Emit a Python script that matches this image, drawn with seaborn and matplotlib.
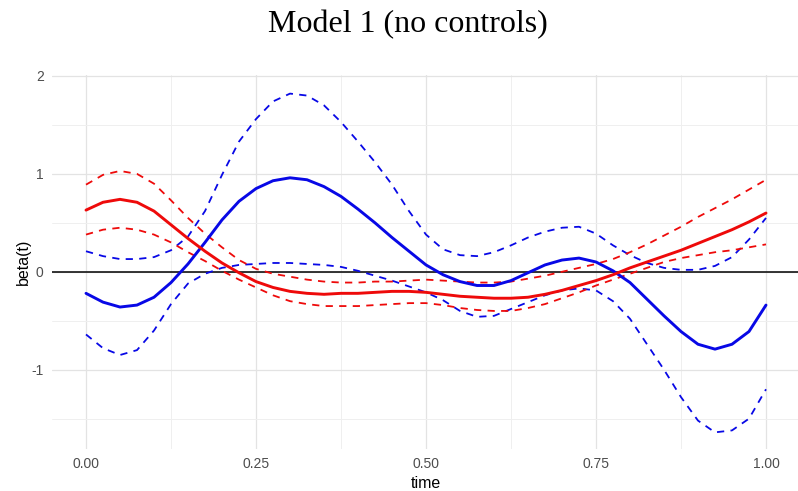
import numpy as np
import pandas as pd
import matplotlib
matplotlib.use("Agg")
import matplotlib.pyplot as plt
import seaborn as sns
from matplotlib.ticker import FixedLocator

# ---- data ----
time = np.linspace(0.0, 1.0, 41)  # grid of 0.025

blue_est = [-0.22, -0.31, -0.36, -0.34, -0.26, -0.11, 0.08, 0.30, 0.53, 0.72, 0.85,
            0.93, 0.96, 0.94, 0.87, 0.77, 0.64, 0.50, 0.35, 0.21, 0.07,
            -0.03, -0.10, -0.14, -0.14, -0.09, -0.01, 0.07, 0.12, 0.14, 0.10,
            0.01, -0.11, -0.28, -0.45, -0.61, -0.74, -0.79, -0.74, -0.61, -0.34]
blue_upper = [0.21, 0.16, 0.13, 0.13, 0.15, 0.22, 0.36, 0.62, 0.99, 1.33, 1.56,
              1.74, 1.82, 1.80, 1.70, 1.53, 1.33, 1.12, 0.89, 0.62, 0.38,
              0.23, 0.17, 0.16, 0.20, 0.27, 0.35, 0.41, 0.45, 0.46, 0.39,
              0.27, 0.17, 0.09, 0.04, 0.02, 0.02, 0.06, 0.15, 0.33, 0.55]
blue_lower = [-0.64, -0.78, -0.85, -0.80, -0.60, -0.33, -0.12, -0.02, 0.04, 0.07, 0.08,
              0.09, 0.09, 0.08, 0.07, 0.05, 0.01, -0.04, -0.09, -0.15, -0.21,
              -0.29, -0.40, -0.46, -0.45, -0.38, -0.31, -0.24, -0.19, -0.17, -0.19,
              -0.30, -0.48, -0.74, -1.00, -1.28, -1.52, -1.64, -1.62, -1.50, -1.20]

red_est = [0.63, 0.71, 0.74, 0.71, 0.62, 0.48, 0.34, 0.21, 0.09, -0.01, -0.10,
           -0.16, -0.20, -0.22, -0.23, -0.22, -0.22, -0.21, -0.20, -0.20, -0.21,
           -0.23, -0.25, -0.26, -0.27, -0.27, -0.26, -0.23, -0.19, -0.14, -0.09,
           -0.03, 0.04, 0.10, 0.16, 0.22, 0.29, 0.36, 0.43, 0.51, 0.60]
red_upper = [0.89, 0.99, 1.03, 1.00, 0.90, 0.73, 0.55, 0.39, 0.25, 0.12, 0.03,
             -0.02, -0.05, -0.08, -0.10, -0.11, -0.11, -0.10, -0.10, -0.09, -0.08,
             -0.09, -0.10, -0.11, -0.11, -0.10, -0.07, -0.04, 0.00, 0.04, 0.08,
             0.13, 0.20, 0.28, 0.37, 0.46, 0.56, 0.65, 0.74, 0.84, 0.94]
red_lower = [0.38, 0.43, 0.45, 0.43, 0.38, 0.30, 0.20, 0.11, 0.01, -0.08, -0.16,
             -0.24, -0.30, -0.33, -0.35, -0.35, -0.35, -0.34, -0.33, -0.32, -0.32,
             -0.34, -0.37, -0.39, -0.40, -0.40, -0.37, -0.33, -0.27, -0.21, -0.14,
             -0.08, -0.02, 0.04, 0.10, 0.14, 0.17, 0.20, 0.22, 0.25, 0.28]

x_ticks = [0.00, 0.25, 0.50, 0.75, 1.00]
x_tick_labels = ["0.00", "0.25", "0.50", "0.75", "1.00"]
y_ticks = [-1, 0, 1, 2]
y_tick_labels = ["-1", "0", "1", "2"]

title = "Model 1 (no controls)"
x_label = "time"
y_label = "beta(t)"

# ---- styling ----
sns.set_theme(style="white")
plt.rcParams["font.family"] = ["Liberation Sans", "DejaVu Sans"]

BLUE = "#0808E6"
RED = "#EE0A0A"

fig = plt.figure(figsize=(7.98, 4.91), dpi=100)
ax = fig.add_axes([52 / 798, 1 - 449 / 491, (800 - 52) / 798, (449 - 75) / 491])
ax.set_facecolor("white")

df = pd.DataFrame({"time": time})

series = [
    (blue_upper, BLUE, "dashed"),
    (blue_lower, BLUE, "dashed"),
    (red_upper, RED, "dashed"),
    (red_lower, RED, "dashed"),
    (blue_est, BLUE, "solid"),
    (red_est, RED, "solid"),
]

ax.axhline(0, color="black", lw=1.1, zorder=2)

for vals, col, ls in series:
    d = df.assign(value=vals)
    if ls == "solid":
        sns.lineplot(data=d, x="time", y="value", ax=ax, color=col, lw=2.1,
                     estimator=None, sort=False, zorder=4)
    else:
        sns.lineplot(data=d, x="time", y="value", ax=ax, color=col, lw=1.3,
                     estimator=None, sort=False, zorder=3)
        ax.lines[-1].set_dashes((4, 3.5))

ax.set_xlim(-0.05, 1.05)
ax.set_ylim(-1.81, 2.01)

ax.xaxis.set_major_locator(FixedLocator(x_ticks))
ax.set_xticklabels(x_tick_labels)
ax.xaxis.set_minor_locator(FixedLocator([0.125, 0.375, 0.625, 0.875]))
ax.yaxis.set_major_locator(FixedLocator(y_ticks))
ax.set_yticklabels(y_tick_labels)
ax.yaxis.set_minor_locator(FixedLocator([-1.5, -0.5, 0.5, 1.5]))

ax.grid(which="major", color="#e3e3e3", lw=0.9, zorder=0)
ax.grid(which="minor", color="#efefef", lw=0.7, zorder=0)
ax.set_axisbelow(True)
for s in ax.spines.values():
    s.set_visible(False)

ax.tick_params(axis="both", which="major", length=3, width=1.0, color="#333333",
               labelsize=10, labelcolor="#4D4D4D", pad=3)
ax.tick_params(axis="both", which="minor", length=0)

ax.set_xlabel(x_label, fontsize=11.5, color="black", labelpad=3)
ax.set_ylabel(y_label, fontsize=11.5, color="black", labelpad=0)

fig.text(407.5 / 798, 1 - 25 / 491, title, ha="center", va="center",
         fontsize=23, family=["Liberation Serif", "DejaVu Serif"], color="black")

fig.savefig("out.png", dpi=100)
